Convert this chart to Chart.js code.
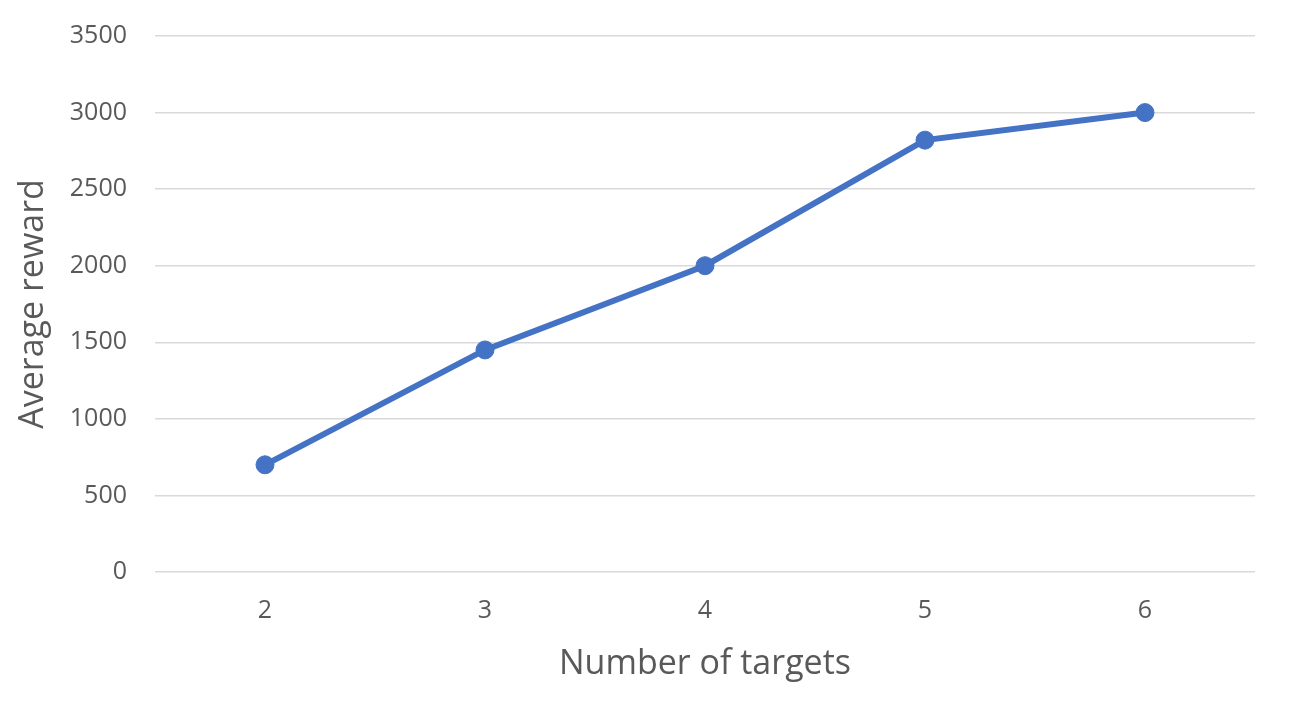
<!DOCTYPE html>
<html lang="en">
<head>
    <meta charset="UTF-8">
    <title>Average reward</title>
    <script src="https://cdn.jsdelivr.net/npm/chart.js"></script>
    <style>
        body {
            margin: 0;
            background: white;
        }
        #wrap {
            width: 1308px;
            height: 708px;
        }
    </style>
</head>
<body>
    <div id="wrap"><canvas id="grafico" width="1308" height="708"></canvas></div>

    <script>
        // data
        const targets = ["2", "3", "4", "5", "6"];
        const avgReward = [700, 1450, 2000, 2820, 3000];
        const yTicks = [0, 500, 1000, 1500, 2000, 2500, 3000, 3500];

        const textColor = "#595959";
        const gridColor = "#d9d9d9";

        const ctx = document.getElementById("grafico").getContext("2d");
        new Chart(ctx, {
            type: "line",
            data: {
                labels: targets,
                datasets: [{
                    label: "Average reward",
                    data: avgReward,
                    borderColor: "#4472C4",
                    backgroundColor: "#4472C4",
                    borderWidth: 6,
                    pointRadius: 9,
                    pointBorderWidth: 1,
                    pointHoverRadius: 9,
                    tension: 0
                }]
            },
            options: {
                responsive: false,
                animation: false,
                layout: {
                    padding: { top: 36, right: 53, left: 0, bottom: 0 }
                },
                plugins: {
                    legend: { display: false },
                    tooltip: { enabled: false }
                },
                scales: {
                    x: {
                        offset: true,
                        grid: { display: false, drawTicks: false },
                        border: { display: false },
                        ticks: {
                            color: textColor,
                            font: { family: "Open Sans", size: 25 },
                            padding: 24
                        },
                        title: {
                            display: true,
                            text: "Number of targets",
                            color: textColor,
                            font: { family: "Open Sans", size: 34 },
                            padding: { top: 0, bottom: 23 }
                        },
                        afterFit: function (scale) {
                            scale.height = 136;
                            scale.paddingLeft = 0;
                            scale.paddingRight = 0;
                        }
                    },
                    y: {
                        min: 0,
                        max: 3500,
                        afterBuildTicks: function (scale) {
                            scale.ticks = yTicks.map(v => ({ value: v }));
                        },
                        grid: {
                            color: gridColor,
                            lineWidth: 1.5,
                            drawTicks: false
                        },
                        border: { display: false },
                        ticks: {
                            color: textColor,
                            font: { family: "Open Sans", size: 25 },
                            padding: 28,
                            callback: v => String(v)
                        },
                        title: {
                            display: true,
                            text: "Average reward",
                            color: textColor,
                            font: { family: "Open Sans", size: 34 },
                            padding: { top: 13, bottom: 0 }
                        },
                        afterFit: function (scale) {
                            scale.width = 155;
                            scale.paddingTop = 0;
                            scale.paddingBottom = 0;
                        }
                    }
                }
            }
        });
    </script>
</body>
</html>
